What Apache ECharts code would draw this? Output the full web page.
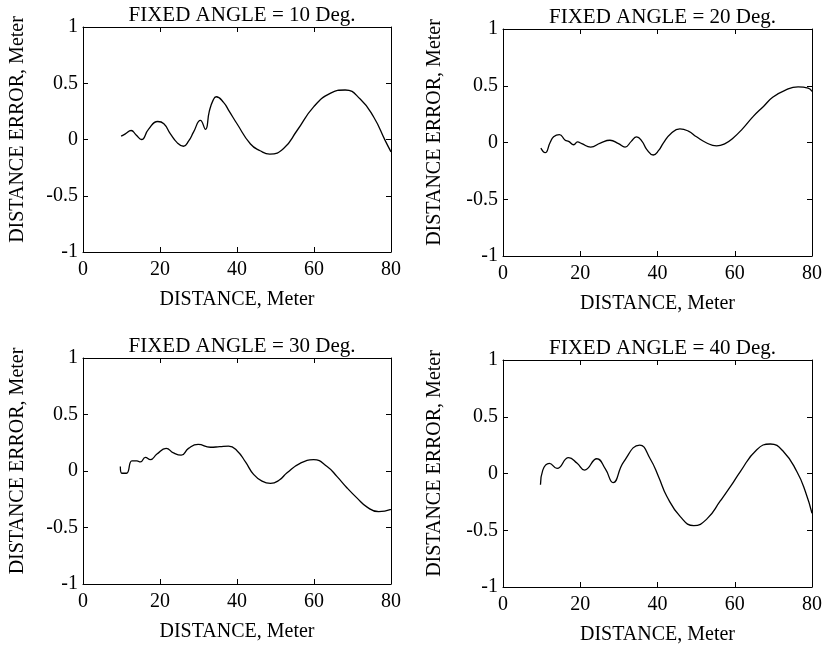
<!DOCTYPE html>
<html><head><meta charset="utf-8">
<script src="https://cdn.jsdelivr.net/npm/echarts@6/dist/echarts.min.js"></script>
<style>html,body{margin:0;padding:0;background:#fff}#c{width:825px;height:650px}</style>
</head><body><div id="c"></div>
<script>
const panelTitles = ['FIXED ANGLE = 10 Deg.', 'FIXED ANGLE = 20 Deg.', 'FIXED ANGLE = 30 Deg.', 'FIXED ANGLE = 40 Deg.'];
const xName = 'DISTANCE, Meter';
const yName = 'DISTANCE ERROR, Meter';
const xTicks = [0, 20, 40, 60, 80];
const yTicks = [-1, -0.5, 0, 0.5, 1];

const dist10 = [9.9, 11, 12.5, 13.8, 15.2, 17, 19.4, 21, 22.7, 24.5, 26.1, 27.5, 28.7, 30.5, 31.8, 32.8, 33.8, 34.6, 36.5, 38, 40, 43.5, 46, 48.5, 52.1, 55.6, 59.9, 64.2, 68.1, 72, 75.5, 78.5, 80];
const err10 = [0.03, 0.05, 0.08, 0.04, 0.0, 0.09, 0.16, 0.14, 0.05, -0.03, -0.06, -0.01, 0.065, 0.17, 0.09, 0.25, 0.35, 0.38, 0.33, 0.25, 0.14, -0.04, -0.1, -0.13, -0.08, 0.08, 0.29, 0.41, 0.44, 0.36, 0.2, -0.01, -0.11];

const dist20 = [9.8, 10.9, 12.2, 13.1, 14.6, 16.1, 17, 18.3, 19.3, 20.4, 22.7, 25.2, 27.7, 29.9, 31.6, 33.2, 34.6, 36, 37.2, 38.9, 40.3, 41.5, 43.5, 45.8, 48, 50.1, 52.5, 55.3, 57.5, 59.6, 62, 64.8, 67.5, 69.9, 73, 76.4, 79, 80];
const err20 = [-0.05, -0.09, 0, 0.05, 0.07, 0.02, 0.01, -0.02, 0.005, -0.01, -0.04, -0.005, 0.02, -0.01, -0.04, 0.01, 0.05, 0.01, -0.06, -0.11, -0.07, -0.005, 0.08, 0.12, 0.1, 0.05, 0.0, -0.03, -0.01, 0.04, 0.12, 0.23, 0.32, 0.4, 0.46, 0.49, 0.48, 0.45];

const dist30 = [9.7, 10.1, 11.3, 12.7, 14, 14.9, 16.2, 17.5, 19.2, 21.6, 23.5, 25.5, 27.4, 29.9, 33.1, 35.5, 37.8, 40, 42.2, 44.3, 46.5, 48.7, 51, 53, 56.5, 59.9, 63.4, 66, 68.6, 71.2, 73.8, 76.8, 80];
const err30 = [0.04, -0.02, -0.02, 0.09, 0.09, 0.08, 0.12, 0.1, 0.15, 0.2, 0.16, 0.14, 0.2, 0.235, 0.21, 0.215, 0.22, 0.18, 0.08, -0.03, -0.09, -0.11, -0.08, -0.015, 0.07, 0.1, 0.04, -0.05, -0.15, -0.24, -0.32, -0.36, -0.34];

const dist40 = [9.7, 10.3, 12, 14, 17, 19.2, 21.1, 24.3, 26.5, 28.5, 31.2, 35.4, 38.1, 40.3, 42.4, 45.9, 49.4, 52.8, 56.3, 59, 61.4, 65.7, 69.2, 72.7, 76.1, 78.3, 80];
const err40 = [-0.1, 0.03, 0.09, 0.045, 0.14, 0.09, 0.03, 0.13, 0.04, -0.08, 0.1, 0.25, 0.13, -0.03, -0.2, -0.38, -0.46, -0.4, -0.24, -0.11, 0.015, 0.21, 0.26, 0.19, 0.015, -0.16, -0.35];

const panels = [[dist10, err10], [dist20, err20], [dist30, err30], [dist40, err40]];
const grids = [
  {left: 83, top: 27, width: 308, height: 225},
  {left: 503, top: 29, width: 309, height: 227},
  {left: 83, top: 358, width: 308, height: 226},
  {left: 503, top: 360, width: 309, height: 227}
];
const FONT = '"Liberation Serif", "Times New Roman", serif';
const black = '#000';

const option = {
  backgroundColor: '#fff',
  animation: false,
  title: [], grid: [], xAxis: [], yAxis: [], series: []
};
grids.forEach((g, i) => {
  option.grid.push(g);
  option.title.push({
    text: panelTitles[i], left: g.left + g.width / 2, top: g.top - 27, textAlign: 'center',
    textStyle: {fontFamily: FONT, fontSize: 21, fontWeight: 'normal', color: black}
  });
  const axLine = {show: true, onZero: false, lineStyle: {color: black, width: 1}};
  const tick = {show: true, inside: true, length: 5, lineStyle: {color: black, width: 1}};
  const lbl = {fontFamily: FONT, fontSize: 20, color: black};
  option.xAxis.push({
    gridIndex: i, type: 'value', min: xTicks[0], max: xTicks[xTicks.length - 1], interval: xTicks[1] - xTicks[0],
    position: 'bottom', axisLine: axLine, axisTick: tick, splitLine: {show: false},
    axisLabel: Object.assign({margin: 8}, lbl),
    name: xName, nameLocation: 'middle', nameGap: 38, nameTextStyle: lbl
  });
  option.xAxis.push({
    gridIndex: i, type: 'value', min: xTicks[0], max: xTicks[xTicks.length - 1], interval: xTicks[1] - xTicks[0],
    position: 'top', axisLine: axLine, axisTick: tick, splitLine: {show: false}, axisLabel: {show: false}
  });
  option.yAxis.push({
    gridIndex: i, type: 'value', min: yTicks[0], max: yTicks[yTicks.length - 1], interval: yTicks[1] - yTicks[0],
    position: 'left', axisLine: axLine, axisTick: tick, splitLine: {show: false},
    axisLabel: Object.assign({margin: 5}, lbl),
    name: yName, nameLocation: 'middle', nameGap: i % 2 === 0 ? 55 : 58,
    nameTextStyle: Object.assign({padding: [0, 0, 0, 20]}, lbl)
  });
  option.yAxis.push({
    gridIndex: i, type: 'value', min: yTicks[0], max: yTicks[yTicks.length - 1], interval: yTicks[1] - yTicks[0],
    position: 'right', axisLine: axLine, axisTick: tick, splitLine: {show: false}, axisLabel: {show: false}
  });
  const [xs, ys] = panels[i];
  option.series.push({
    type: 'line', xAxisIndex: 2 * i, yAxisIndex: 2 * i, smooth: 0.5, showSymbol: false,
    lineStyle: {color: black, width: 1.3}, clip: true,
    data: xs.map((x, k) => [x, ys[k]])
  });
});
const chart = echarts.init(document.getElementById('c'), null, {renderer: 'canvas'});
chart.setOption(option);
</script>
</body></html>
